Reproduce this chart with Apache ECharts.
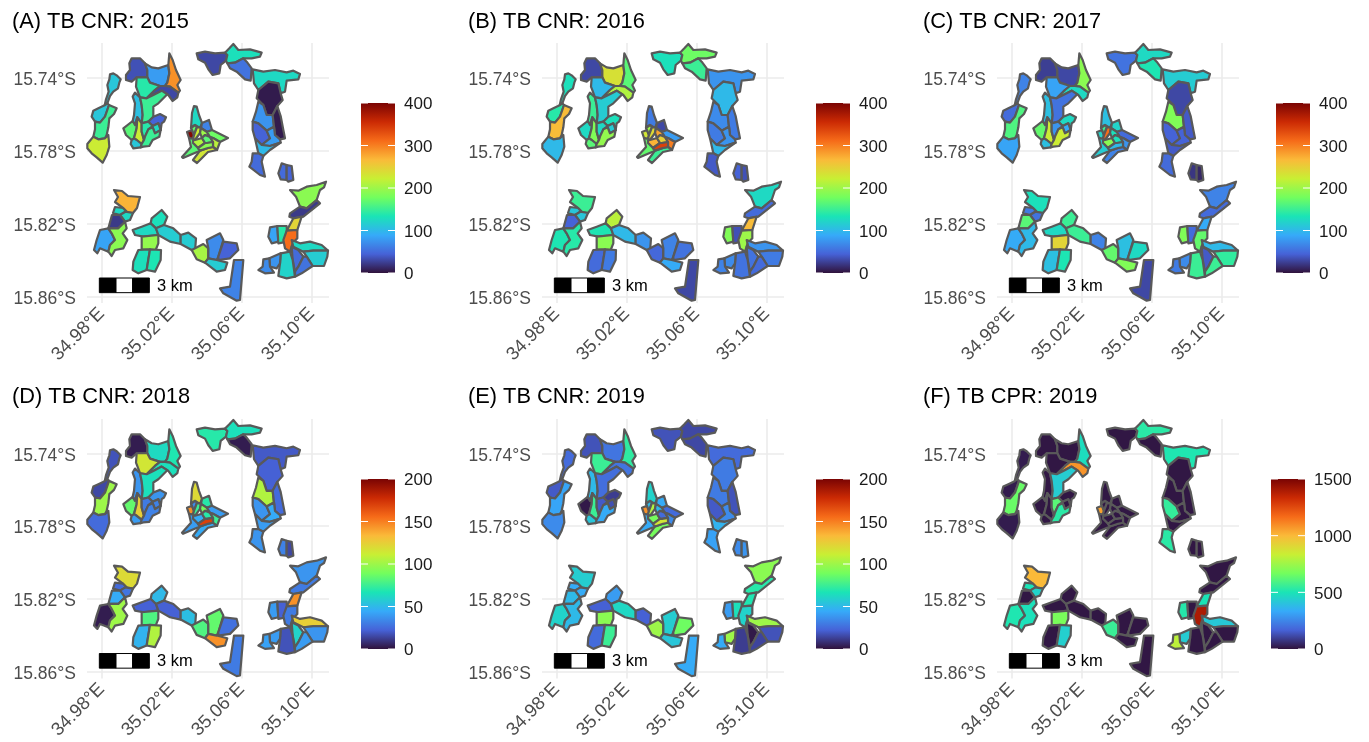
<!DOCTYPE html>
<html>
<head>
<meta charset="utf-8">
<style>html,body{margin:0;padding:0;background:#fff}#c{width:1369px;height:742px}</style>
<script src="https://cdn.jsdelivr.net/npm/echarts@6/dist/echarts.min.js"></script>
</head>
<body>
<div id="c"></div>
<script>
// Panel titles and colour-scale limits
const panelTitles = ['(A) TB CNR: 2015','(B) TB CNR: 2016','(C) TB CNR: 2017','(D) TB CNR: 2018','(E) TB CNR: 2019','(F) TB CPR: 2019'];
const scaleMax = [400,400,400,200,200,1500];
const scaleTicks400 = [0,100,200,300,400];
const scaleTicks200 = [0,50,100,150,200];
const scaleTicks1500 = [0,500,1000,1500];
const lonTicks = [34.98,35.02,35.06,35.10];
const latTicks = [15.74,15.78,15.82,15.86];
const turboColors = ['#30123B','#4662D7','#36AAF9','#1AE4B6','#72FE5E','#C8EF34','#FABA39','#F66B19','#CB2A04','#7A0403'];

// Ward outlines in local survey-grid units (u east, v south)
const westStrip = [
 [[60,103],[70,100],[80,106],[92,118],[88,128],[84,145],[70,155],[60,168],[52,190],[44,196],[48,178],[56,155],[52,135],[58,118]],
 [[44,196],[52,190],[57,195],[52,210],[45,230],[30,248],[15,245],[5,230],[10,212],[25,205]],
 [[57,195],[80,205],[72,222],[58,235],[55,262],[50,285],[45,295],[25,298],[10,290],[15,268],[15,245],[30,248],[45,230],[52,210]],
 [[-8,312],[10,290],[25,298],[45,295],[55,285],[58,320],[50,345],[38,368],[20,352],[5,340],[-8,325]]
];
const northCluster = [
 [[125,55],[150,55],[165,70],[172,90],[172,112],[140,112],[125,125],[108,120],[108,105],[120,90],[118,70]],
 [[165,70],[185,82],[205,85],[235,75],[238,100],[232,128],[225,138],[210,138],[180,128],[172,112],[172,90]],
 [[238,40],[248,60],[258,90],[272,120],[262,135],[270,152],[265,158],[240,140],[225,138],[232,128],[238,100],[235,75]],
 [[140,112],[172,112],[180,128],[210,138],[195,150],[170,175],[150,172],[138,140]],
 [[225,138],[240,140],[265,158],[262,172],[248,183],[235,165],[215,152],[190,165],[170,175],[195,150],[210,138]],
 [[135,158],[150,172],[155,195],[158,225],[155,250],[142,232],[135,255],[128,243],[132,225],[135,190],[128,170]],
 [[150,172],[170,175],[190,165],[215,152],[232,163],[205,190],[190,200],[190,230],[175,245],[155,250],[158,225],[155,195]],
 [[190,230],[210,222],[228,232],[222,245],[215,250],[212,270],[205,250],[188,258],[175,245]],
 [[100,265],[128,243],[135,255],[142,232],[140,265],[132,295],[125,300],[108,285]],
 [[142,232],[155,250],[155,275],[162,300],[155,312],[140,300],[132,295],[140,265]],
 [[125,300],[132,295],[140,300],[155,312],[152,322],[130,325],[122,312]],
 [[155,250],[175,245],[188,258],[175,268],[165,290],[162,300],[155,275]],
 [[188,258],[205,250],[212,270],[195,280],[188,262]],
 [[175,268],[188,262],[195,280],[212,270],[208,290],[188,300],[178,318],[160,320],[152,322],[155,312],[162,300],[165,290]]
];
const triangleCluster = [
 [[312,198],[320,200],[327,225],[336,249],[330,264],[315,255],[303,264],[306,219]],
 [[336,249],[357,240],[366,270],[351,276],[333,264]],
 [[291,276],[306,270],[312,285],[309,297],[297,294]],
 [[303,264],[315,255],[321,261],[312,285],[306,270]],
 [[321,261],[333,264],[330,279],[315,300],[309,297],[312,285]],
 [[333,264],[351,276],[360,291],[345,285],[336,294],[330,279]],
 [[351,276],[366,270],[414,294],[390,306],[369,294],[360,291]],
 [[315,300],[336,294],[345,309],[324,324],[309,309],[309,297]],
 [[336,294],[345,285],[360,291],[369,306],[351,309],[345,309]],
 [[369,294],[390,306],[381,330],[369,321],[369,306],[360,291]],
 [[297,294],[309,297],[309,309],[324,324],[330,332],[300,345],[279,354],[276,351],[303,321]],
 [[354,324],[369,321],[381,330],[354,336],[321,369],[309,360],[330,332]],
 [[324,324],[345,309],[351,309],[369,306],[369,321],[354,324],[330,332]]
];
const topCluster = [
 [[320,40],[345,35],[375,40],[405,38],[412,45],[408,62],[392,75],[388,100],[368,105],[355,88],[345,68],[325,58]],
 [[405,38],[418,25],[430,12],[445,30],[480,28],[515,38],[510,50],[485,55],[460,55],[435,68],[412,70],[408,62],[412,45]],
 [[412,70],[435,68],[460,55],[470,65],[485,85],[482,122],[465,118],[440,95],[420,85]]
];
const eastColumn = [
 [[488,88],[520,95],[555,90],[590,97],[610,92],[630,102],[625,118],[590,122],[585,155],[572,160],[565,130],[535,125],[505,150],[492,130]],
 [[535,125],[565,130],[572,160],[578,180],[562,198],[548,225],[530,225],[520,195],[500,175],[505,150]],
 [[505,185],[520,195],[530,225],[548,225],[552,260],[530,272],[505,250],[488,245],[498,215]],
 [[548,225],[562,198],[572,228],[580,270],[585,295],[570,298],[555,285],[552,260]],
 [[488,245],[505,250],[530,272],[540,295],[515,315],[495,295],[488,270]],
 [[552,260],[555,285],[570,298],[572,308],[540,318],[515,315],[540,295],[530,272]],
 [[495,295],[515,315],[540,318],[572,308],[540,330],[520,348],[505,340]],
 [[488,340],[505,340],[520,348],[515,365],[525,410],[510,405],[478,380],[485,365]]
];
const smallPair = [
 [[575,370],[590,375],[590,420],[572,418],[565,400]],
 [[590,375],[605,378],[610,420],[595,425],[590,420]]
];
const southWest = [
 [[72,450],[96,453],[114,468],[150,471],[141,504],[129,519],[111,516],[99,504],[75,486],[84,471]],
 [[75,501],[99,504],[111,516],[105,516],[90,525],[69,519]],
 [[105,516],[111,516],[129,519],[120,540],[105,545],[90,525]],
 [[66,525],[90,525],[105,545],[85,565],[55,565]],
 [[30,570],[55,565],[65,580],[75,600],[60,615],[55,635],[30,625],[22,640],[12,630],[20,600],[25,585]],
 [[85,565],[105,545],[110,565],[98,580],[112,600],[100,625],[75,630],[65,648],[55,635],[60,615],[75,600],[65,580],[55,565]]
];
const southBelt = [
 [[185,535],[215,510],[232,530],[222,555],[198,565],[182,550]],
 [[128,570],[155,560],[182,550],[198,565],[205,585],[160,590],[135,585]],
 [[155,590],[205,585],[205,610],[197,630],[155,628]],
 [[145,630],[180,628],[170,690],[145,700],[128,690],[130,665]],
 [[180,628],[213,630],[212,660],[195,695],[170,690]],
 [[198,565],[222,555],[250,565],[272,585],[272,612],[240,605],[205,585]],
 [[272,585],[295,578],[318,595],[315,635],[305,630],[272,612]],
 [[305,630],[340,612],[355,625],[355,655],[345,668],[320,658]],
 [[350,600],[390,580],[400,600],[385,650],[380,660],[355,655],[355,625]],
 [[400,605],[440,610],[445,630],[420,655],[385,660],[385,650]],
 [[355,655],[380,660],[412,668],[405,690],[380,695],[345,668]],
 [[432,660],[460,660],[450,780],[440,782],[400,760],[390,745],[420,740]]
];
const southEast = [
 [[600,450],[625,452],[650,440],[680,435],[708,425],[702,442],[690,450],[680,480],[650,505],[630,500],[618,470]],
 [[600,520],[630,500],[650,505],[680,480],[690,490],[640,530],[610,535],[598,530]],
 [[610,535],[635,530],[622,570],[590,572]],
 [[540,562],[562,558],[565,605],[545,610],[535,590]],
 [[562,558],[590,558],[592,605],[565,610]],
 [[590,572],[622,570],[622,595],[608,610],[600,635],[585,625],[580,600]],
 [[605,600],[630,610],[660,605],[695,615],[714,632],[670,632],[640,635],[610,620]],
 [[670,632],[714,632],[712,650],[702,678],[668,678],[650,650],[640,635]],
 [[605,620],[625,630],[640,650],[625,680],[615,695],[608,660]],
 [[572,640],[600,635],[608,660],[615,710],[590,715],[565,708],[570,670]],
 [[640,650],[650,650],[668,678],[635,700],[615,710],[615,695],[625,680]],
 [[538,655],[572,640],[570,670],[560,685],[540,680]],
 [[520,658],[538,655],[540,680],[552,698],[525,700],[505,690],[518,680]]
];
const wardOutlines = [].concat(westStrip,northCluster,triangleCluster,topCluster,eastColumn,smallPair,southWest,southBelt,southEast);

// Ward values, one list per panel, in outline order
const valuesA = [110,110,150,225, 35,80,290,140,30,105,150,45,165,225,110,140,125,150, 125,65,395,170,225,200,175,210,165,215,165,230,190, 30,130,55, 125,5,75,5,45,80,100,50, 50,45, 270,125,125,22,85,190, 130,125,195,130,135,115,115,205,70,45,115,65, 190,22,245,85,140,310,125,115,50,120,55,75,70];
const valuesB = [130,140,265,100, 30,235,165,100,210,150,115,130,125,185,165,125,115,195, 60,30,230,200,240,280,80,270,250,300,170,150,340, 130,175,150, 75,100,70,60,60,75,100,40, 45,35, 150,110,110,45,135,140, 215,135,190,50,60,100,75,48,65,55,90,30, 125,50,265,185,35,200,75,60,55,55,50,70,65];
const valuesC = [65,50,160,85, 25,30,190,85,125,105,55,125,170,225,105,75,90,225, 105,120,120,150,310,130,50,190,130,75,115,65,100, 55,125,135, 115,30,185,40,45,45,40,50, 20,12, 130,60,55,165,90,100, 150,125,245,105,135,150,65,170,105,125,185,30, 65,50,90,185,50,170,100,145,40,150,150,70,60];
const valuesD = [18,15,100,25, 3,63,68,115,65,38,65,38,85,125,40,30,32,32, 120,70,145,35,75,90,40,45,70,75,40,45,170, 70,65,3, 20,22,105,25,38,45,40,38, 32,15, 120,25,28,45,3,100, 50,22,80,48,105,22,52,80,85,27,145,30, 38,30,145,40,22,30,125,38,60,18,40,40,42];
const valuesE = [25,20,43,35, 18,28,72,75,28,50,26,12,2,75,55,20,17,45, 60,45,145,50,105,50,25,90,25,35,45,90,115, 18,15,15, 25,30,30,18,20,35,48,42, 35,38, 58,45,45,50,60,50, 40,22,95,25,75,62,22,100,58,88,55,45, 95,70,68,40,65,60,100,18,2,12,14,100,45];
const valuesF = [20,20,650,20, 10,10,480,10,1080,10,430,10,10,10,10,620,10,530, 10,10,1050,10,10,10,10,10,10,10,10,10,10, 10,530,10, 510,10,10,10,550,10,10,530, 10,10, 1000,500,450,10,510,490, 10,10,680,10,440,10,10,560,10,10,10,10, 10,10,500,520,10,1400,420,10,10,10,10,430,810];
const panelValues = [valuesA,valuesB,valuesC,valuesD,valuesE,valuesF];

// Scale bar: three one-kilometre blocks
const scaleBarBlocks = [0,1,2];
const scaleBarLabel = '3 km';

// Georeference of the survey grid
const LON_PER_UNIT = 0.04/210, LAT_PER_UNIT = 0.04/219;
const toLon = u => 34.98 + (u-35)*LON_PER_UNIT;
const toLat = v => 15.74 + (v-112)*LAT_PER_UNIT;

// Layout
const FONT = '"Liberation Sans", Arial, sans-serif';
const colX = [87,542,997], rowY = [43,419];
const barX = [361,816,1276,361,816,1271], barY = [103,103,103,479,479,479];
const titleX = [12,468,923,12,468,923], titleY = [11,11,11,386,386,386];
const panelTicks = [scaleTicks400,scaleTicks400,scaleTicks400,scaleTicks200,scaleTicks200,scaleTicks1500];

const grid=[],xAxis=[],yAxis=[],series=[],visualMap=[],title=[];
for(let i=0;i<6;i++){
  grid.push({left:colX[i%3],top:rowY[i<3?0:1],width:242,height:260});
  xAxis.push({type:'value',gridIndex:i,min:toLon(-9),max:toLon(717),
    axisLine:{show:false},axisTick:{show:false,customValues:lonTicks},
    axisLabel:{customValues:lonTicks,rotate:45,margin:8,fontSize:18.5,color:'#4D4D4D',fontFamily:FONT,formatter:v=>v.toFixed(2)+'°E'},
    splitLine:{show:true,lineStyle:{color:'#EBEBEB',width:1.6}}});
  yAxis.push({type:'value',gridIndex:i,inverse:true,min:toLat(9),max:toLat(789),
    axisLine:{show:false},axisTick:{show:false,customValues:latTicks},
    axisLabel:{customValues:latTicks,margin:11,fontSize:17.5,verticalAlign:'top',lineHeight:5,color:'#4D4D4D',fontFamily:FONT,formatter:v=>v.toFixed(2)+'°S'},
    splitLine:{show:true,lineStyle:{color:'#EBEBEB',width:1.6}}});
  title.push({text:panelTitles[i],left:titleX[i],top:titleY[i],padding:0,textStyle:{fontSize:21.8,fontWeight:'normal',color:'#000',fontFamily:FONT}});
  visualMap.push({show:false,type:'continuous',seriesIndex:i,dimension:1,min:0,max:scaleMax[i],inRange:{color:turboColors}});
  series.push({type:'custom',xAxisIndex:i,yAxisIndex:i,clip:false,silent:true,z:3,
    data:panelValues[i].map((v,k)=>[k,v]),
    renderItem:(p,api)=>({type:'polygon',
      shape:{points:wardOutlines[api.value(0)].map(q=>api.coord([toLon(q[0]),toLat(q[1])]))},
      style:{fill:api.visual('color'),stroke:'#595959',lineWidth:2.2,lineJoin:'round'}})});
}
for(let i=0;i<6;i++){
  const g=6+i, ticks=panelTicks[i], top=scaleMax[i];
  grid.push({left:barX[i],top:barY[i],width:34,height:170});
  xAxis.push({type:'value',gridIndex:g,min:0,max:1,show:false});
  yAxis.push({type:'value',gridIndex:g,position:'right',min:0,max:top,interval:ticks[1]-ticks[0],
    axisLine:{show:false},axisTick:{show:false},splitLine:{show:false},
    axisLabel:{margin:9,fontSize:17,verticalAlign:'top',lineHeight:3,color:'#1A1A1A',fontFamily:FONT,formatter:v=>String(v)}});
  series.push({type:'custom',xAxisIndex:g,yAxisIndex:g,silent:true,clip:false,data:[[0,top]],
    renderItem:(p,api)=>{
      const a=api.coord([0,top]), b=api.coord([1,0]);
      const kids=[{type:'rect',shape:{x:a[0],y:a[1],width:b[0]-a[0],height:b[1]-a[1]},
        style:{fill:new echarts.graphic.LinearGradient(0,1,0,0,turboColors.map((c,k)=>({offset:k/(turboColors.length-1),color:c})))}}];
      ticks.forEach(t=>{
        const y=api.coord([0,t])[1];
        kids.push({type:'line',shape:{x1:a[0],y1:y,x2:a[0]+7,y2:y},style:{stroke:'#fff',lineWidth:1}});
        kids.push({type:'line',shape:{x1:b[0]-7,y1:y,x2:b[0],y2:y},style:{stroke:'#fff',lineWidth:1}});
      });
      return {type:'group',children:kids};
    }});
}
for(let i=0;i<6;i++){
  series.push({type:'custom',xAxisIndex:i,yAxisIndex:i,clip:false,silent:true,z:4,data:scaleBarBlocks.map(k=>[k]),
    renderItem:(p,api)=>{
      const k=api.value(0);
      const a=api.coord([toLon(28+k*50),toLat(714)]), b=api.coord([toLon(28+(k+1)*50),toLat(758)]);
      const kids=[{type:'rect',shape:{x:a[0],y:a[1],width:b[0]-a[0],height:b[1]-a[1]},
        style:{fill:k===1?'#fff':'#000',stroke:'#000',lineWidth:1}}];
      if(k===2){
        const t=api.coord([toLon(201),toLat(738)]);
        kids.push({type:'text',x:t[0],y:t[1],style:{text:scaleBarLabel,fontSize:16.5,fill:'#000',fontFamily:FONT,textAlign:'left',textVerticalAlign:'middle'}});
      }
      return {type:'group',children:kids};
    }});
}
const chart=echarts.init(document.getElementById('c'),null,{renderer:'canvas'});
chart.setOption({animation:false,backgroundColor:'#fff',title,grid,xAxis,yAxis,visualMap,series});
</script>
</body>
</html>
